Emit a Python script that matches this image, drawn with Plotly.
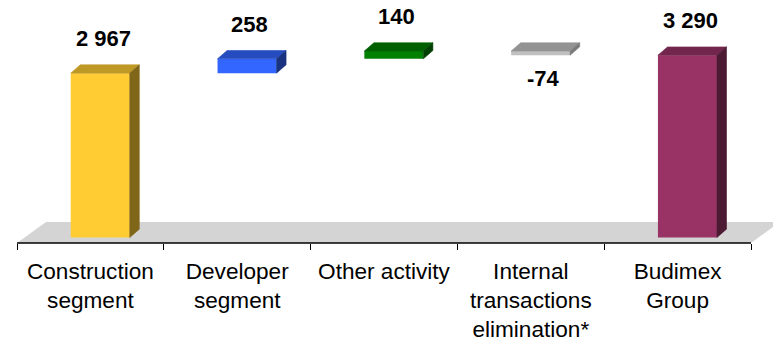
import plotly.graph_objects as go

# Segment contributions to the group total (waterfall)
categories = ["Construction<br>segment", "Developer<br>segment", "Other activity",
              "Internal<br>transactions<br>elimination*", "Budimex<br>Group"]
values = [2967, 258, 140, -74, 3290]
is_total = [False, False, False, False, True]

front_colors = ["#FFCC33", "#3366FF", "#008000", "#C0C0C0", "#993366"]
top_colors = ["#BF9926", "#264DBF", "#006000", "#939393", "#73264D"]
side_colors = ["#806619", "#1A3380", "#004000", "#7A7A7A", "#4D1A33"]
floor_color = "#D4D4D4"

# Geometry of the pseudo-3D look (in axis units)
BAR_W = 0.402          # width of the front face
SHIFT = 0.067          # bars sit halfway into the floor depth
DEPTH_X = 0.065        # horizontal offset of bar top / side faces
DEPTH_Y = 150          # vertical offset of bar top / side faces
FLOOR_DX = 0.1975
FLOOR_DY = 379

Y_RANGE = [-99.3, 4287]
X_RANGE = [-0.5001, -0.5 + 756 / 146.8]

# running totals -> floating bar bases and tops
bases, tops = [], []
running = 0
for v, tot in zip(values, is_total):
    if tot:
        b, t = 0, v
    elif v >= 0:
        b, t = running, running + v
        running += v
    else:
        b, t = running + v, running
        running += v
    bases.append(b)
    tops.append(t)

xs = list(range(len(categories)))
n = len(categories)
fig = go.Figure()

# front faces
fig.add_trace(go.Bar(
    x=xs, y=[t - b for b, t in zip(bases, tops)], base=bases,
    width=BAR_W, offset=SHIFT - BAR_W / 2,
    marker=dict(color=front_colors, line=dict(width=0)),
    hoverinfo="skip", showlegend=False,
))

# top and side faces
for i, (b, t) in enumerate(zip(bases, tops)):
    x0 = i + SHIFT - BAR_W / 2
    x1 = x0 + BAR_W
    fig.add_trace(go.Scatter(
        x=[x0, x1, x1 + DEPTH_X, x0 + DEPTH_X, x0],
        y=[t, t, t + DEPTH_Y, t + DEPTH_Y, t],
        mode="lines", fill="toself", fillcolor=top_colors[i],
        line=dict(width=0.6, color=top_colors[i]),
        hoverinfo="skip", showlegend=False,
    ))
    fig.add_trace(go.Scatter(
        x=[x1, x1 + DEPTH_X, x1 + DEPTH_X, x1, x1],
        y=[b, b + DEPTH_Y, t + DEPTH_Y, t, b],
        mode="lines", fill="toself", fillcolor=side_colors[i],
        line=dict(width=0.6, color=side_colors[i]),
        hoverinfo="skip", showlegend=False,
    ))

# value labels
def fmt(v):
    return f"{v:,}".replace(",", " ")

annotations = []
for i, (v, b, t) in enumerate(zip(values, bases, tops)):
    pos = v >= 0
    annotations.append(dict(
        x=i + SHIFT + 0.02, y=t if pos else b, xref="x", yref="y",
        text=fmt(v), showarrow=False,
        yanchor="bottom" if pos else "top", yshift=20 if pos else -9,
        font=dict(family="Arial, Liberation Sans, sans-serif", size=22,
                  color="black", weight="bold"),
    ))

shapes = [
    # floor
    dict(type="path", xref="x", yref="y", layer="below",
         path=(f"M {-0.5},{Y_RANGE[0]} L {-0.5 + FLOOR_DX},{Y_RANGE[0] + FLOOR_DY} "
               f"L {n - 0.5 + FLOOR_DX},{Y_RANGE[0] + FLOOR_DY} L {n - 0.5},{Y_RANGE[0]} Z"),
         fillcolor=floor_color, line=dict(width=0)),
    # category axis line
    dict(type="line", xref="x", yref="paper", x0=-0.5, x1=n - 0.5, y0=0, y1=0,
         line=dict(color="black", width=1.5)),
]

fig.update_layout(
    width=773, height=345,
    margin=dict(l=17, r=0, t=0, b=102, autoexpand=False),
    paper_bgcolor="white", plot_bgcolor="white",
    showlegend=False,
    annotations=annotations, shapes=shapes,
    xaxis=dict(range=X_RANGE, tickmode="array", tickvals=xs, ticktext=categories,
               ticks="", ticklabelstandoff=12,
               tickfont=dict(family="Arial, Liberation Sans, sans-serif", size=22.6, color="black"),
               minor=dict(tickmode="array", tickvals=[k - 0.5 for k in range(n + 1)],
                          ticks="outside", ticklen=6, tickwidth=1, tickcolor="black",
                          showgrid=False),
               showgrid=False, zeroline=False, showline=False),
    yaxis=dict(range=Y_RANGE, visible=False, showgrid=False, zeroline=False),
)

fig.write_html("out.html")
